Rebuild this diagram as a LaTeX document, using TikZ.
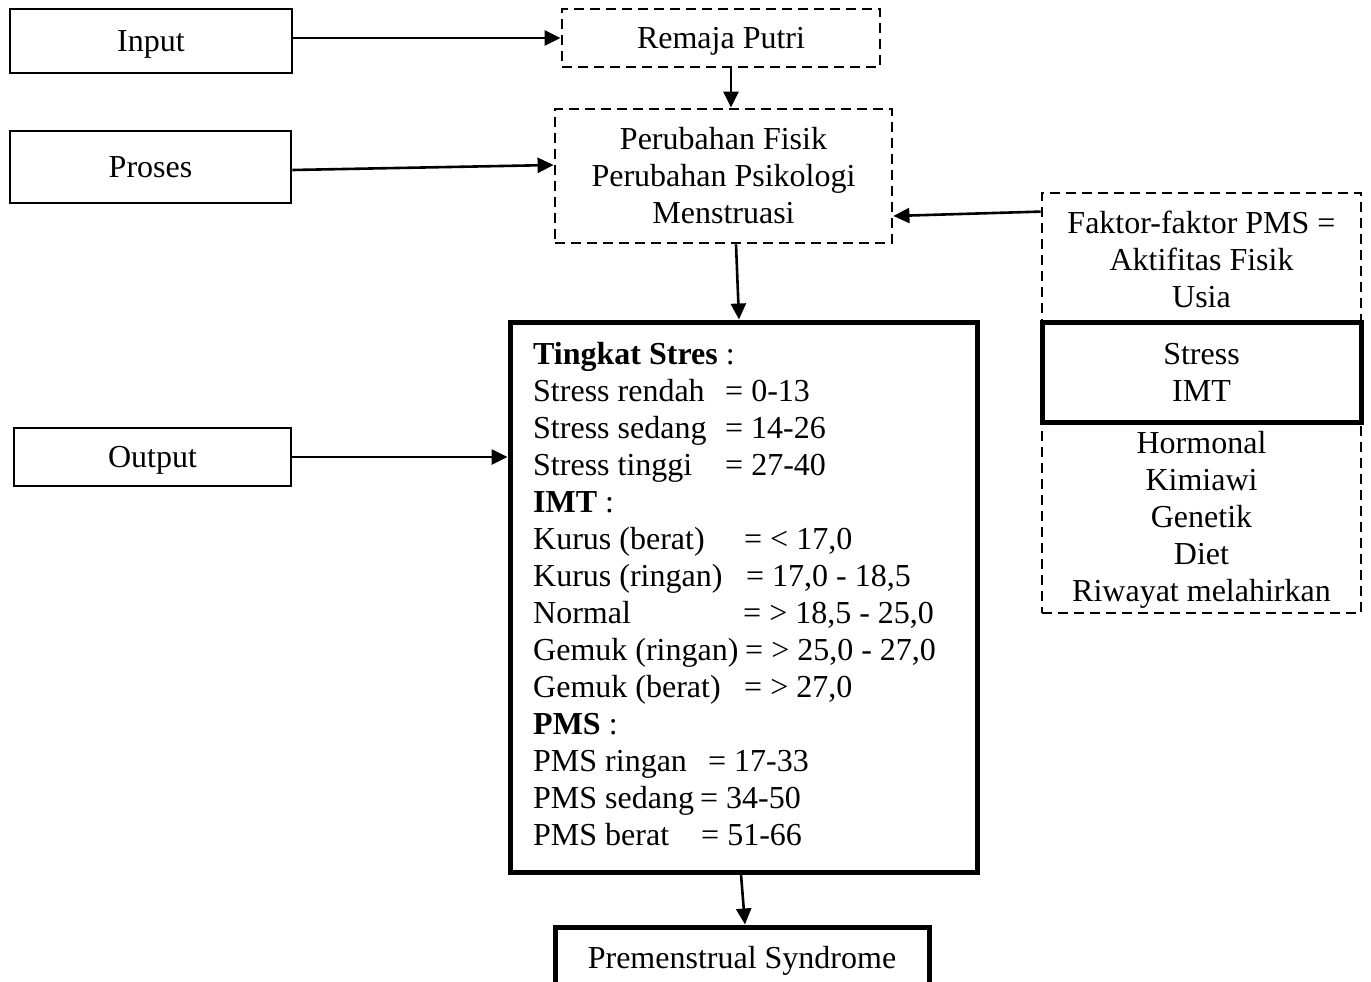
\documentclass[tikz,border=0pt]{standalone}
\usepackage{fontspec}
\setmainfont{Liberation Serif}
\usetikzlibrary{arrows.meta}
\begin{document}
\begin{tikzpicture}[x=1pt,y=-1pt,
  every node/.style={font=\fontsize{32}{37}\selectfont},
  box/.style={draw, line width=2.8pt, inner sep=0pt, align=center},
  one/.style={text height=22pt, text depth=1pt},
  dbox/.style={box, dash pattern=on 10pt off 6pt},
  tbox/.style={box, line width=5pt},
  txt/.style={inner sep=0pt, align=center},
  arr/.style={line width=2.6pt, -{Triangle[length=16pt,width=15pt]}}]
\useasboundingbox (0,0) rectangle (1371,982);
% left column
\node[box, one, minimum width=282pt, minimum height=64pt] (input) at (151,41) {Input};
\node[box, one, minimum width=281pt, minimum height=72pt] (proses) at (150.5,167) {Proses};
\node[box, one, minimum width=277pt, minimum height=58pt] (output) at (152.5,457) {Output};
% centre column
\node[dbox, one, minimum width=318pt, minimum height=58pt] (remaja) at (721,38) {Remaja Putri};
\node[dbox, minimum width=337pt, minimum height=134pt] (perub) at (723.5,176) {Perubahan Fisik\\Perubahan Psikologi\\Menstruasi};
\node[tbox, minimum width=467pt, minimum height=550pt] (big) at (743.5,597) {};
\node[inner sep=0pt, align=left, anchor=north west] (bigtext) at (533,342) {%
\textbf{Tingkat Stres} :\\
\makebox[192pt][l]{Stress rendah}= 0-13\\
\makebox[192pt][l]{Stress sedang}= 14-26\\
\makebox[192pt][l]{Stress tinggi}= 27-40\\
\textbf{IMT} :\\
\makebox[211pt][l]{Kurus (berat)}= {\char`\<} 17,0\\
\makebox[213pt][l]{Kurus (ringan)}= 17,0 - 18,5\\
\makebox[210pt][l]{Normal}= {\char`\>} 18,5 - 25,0\\
\makebox[212pt][l]{Gemuk (ringan)}= {\char`\>} 25,0 - 27,0\\
\makebox[211pt][l]{Gemuk (berat)}= {\char`\>} 27,0\\
\textbf{PMS} :\\
\makebox[175pt][l]{PMS ringan}= 17-33\\
\makebox[167pt][l]{PMS sedang}= 34-50\\
\makebox[168pt][l]{PMS berat}= 51-66};
\node[tbox, one, minimum width=374pt, minimum height=62pt] (pms) at (742,958) {Premenstrual Syndrome};
% right column
\node[dbox, minimum width=319pt, minimum height=420pt] (faktor) at (1201.5,403) {};
\node[txt] (ftop) at (1201.5,259) {Faktor-faktor PMS =\\Aktifitas Fisik\\Usia};
\node[tbox, minimum width=319pt, minimum height=100pt] (simt) at (1201.5,372) {Stress\\IMT};
\node[txt] (fbot) at (1201.5,520) {Hormonal\\Kimiawi\\Genetik\\Diet\\Riwayat melahirkan};
% connectors
\draw[arr] (input.east |- remaja.west) -- (remaja.west);
\draw[arr] ([yshift=-3pt]proses.east) -- ([yshift=11pt]perub.west);
\draw[arr] (output.east) -- (output.east -| big.west);
\draw[arr] ([xshift=10pt]remaja.south) -- ([xshift=7.5pt]perub.north);
\draw[arr] ([xshift=12.5pt]perub.south) -- ([xshift=-4.5pt]big.north);
\draw[arr] ([yshift=-20pt]faktor.north west) -- ([yshift=-40pt]perub.east);
\draw[arr] ([xshift=-2.5pt]big.south) -- ([xshift=3pt]pms.north);
\end{tikzpicture}
\end{document}
